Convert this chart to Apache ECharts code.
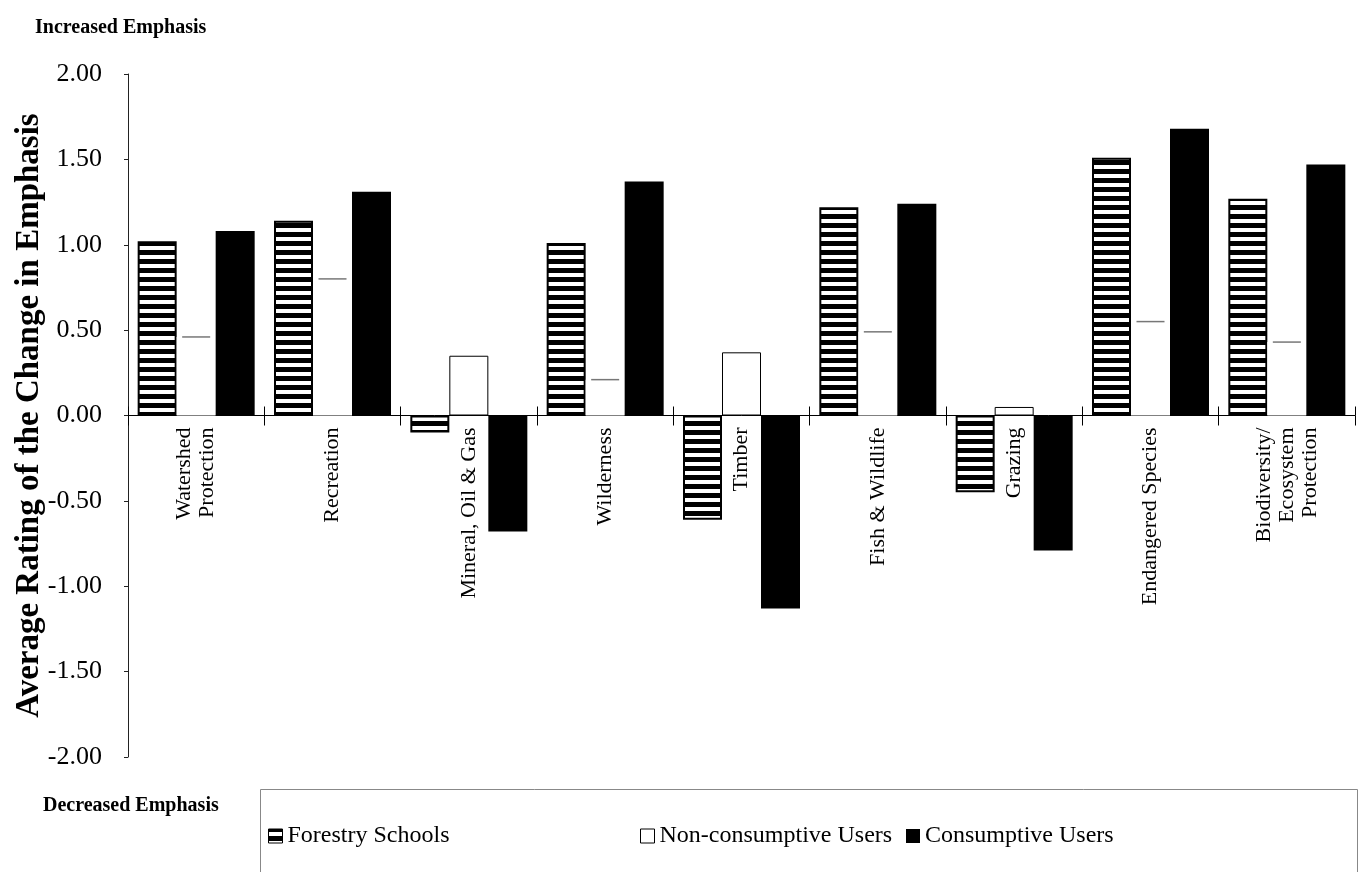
<!DOCTYPE html>
<html>
<head>
<meta charset="utf-8">
<script src="https://cdn.jsdelivr.net/npm/echarts@6/dist/echarts.min.js"></script>
<style>
  html, body { margin: 0; padding: 0; background: #fff; }
  #chart { width: 1365px; height: 872px; }
</style>
</head>
<body>
<div id="chart"></div>
<script>
// Resource categories along the x axis
const categories = [
  'Watershed\nProtection',
  'Recreation',
  'Mineral, Oil & Gas',
  'Wilderness',
  'Timber',
  'Fish & Wildlife',
  'Grazing',
  'Endangered Species',
  'Biodiversity/\nEcosystem\nProtection'
];

// Average rating of the change in emphasis, per group
const forestrySchools     = [1.02, 1.14, -0.10, 1.01, -0.61, 1.22, -0.45, 1.51, 1.27];
const nonConsumptiveUsers = [0.46, 0.80,  0.35, 0.21,  0.37, 0.49,  0.05, 0.55, 0.43];
const consumptiveUsers    = [1.08, 1.31, -0.68, 1.37, -1.13, 1.24, -0.79, 1.68, 1.47];

// Value axis range and step
const yMin = -2;
const yMax = 2;
const yStep = 0.5;

// Non-consumptive bars that are drawn with a full outline
const outlinedNonConsumptive = ['Mineral, Oil & Gas', 'Timber', 'Grazing'];

const FONT = 'Liberation Serif';

// Plot area
const GRID = { left: 128, right: 10, top: 74, bottom: 115 };
const CHART_H = 872;
// distance from the plot's bottom edge up to the zero line
const zeroLift = (CHART_H - GRID.top - GRID.bottom) * (0 - yMin) / (yMax - yMin);

// Horizontal black/white stripe fill for the forestry schools bars
function stripePattern() {
  const c = document.createElement('canvas');
  c.width = 4;
  c.height = 9;
  const ctx = c.getContext('2d');
  ctx.fillStyle = '#000';
  ctx.fillRect(0, 0, 4, 9);
  ctx.fillStyle = '#fff';
  ctx.fillRect(0, 3, 4, 4);
  return c;
}
const stripes = { image: stripePattern(), repeat: 'repeat' };

const isOutlined = i => outlinedNonConsumptive.includes(categories[i]);

const chart = echarts.init(document.getElementById('chart'), null, { renderer: 'canvas' });

const legendText = { fontFamily: FONT, fontSize: 24, color: '#000' };
const legendBase = {
  top: 824,
  orient: 'horizontal',
  itemWidth: 14,
  itemHeight: 14,
  itemGap: 0,
  padding: 0,
  icon: 'rect',
  textStyle: legendText,
  selectedMode: false
};

chart.setOption({
  animation: false,
  backgroundColor: '#fff',
  title: [
    {
      text: 'Increased Emphasis',
      left: 30, top: 13,
      textStyle: { fontFamily: FONT, fontSize: 20, fontWeight: 'bold', color: '#000' }
    },
    {
      text: 'Decreased Emphasis',
      left: 38, top: 791,
      textStyle: { fontFamily: FONT, fontSize: 20, fontWeight: 'bold', color: '#000' }
    }
  ],
  legend: [
    Object.assign({}, legendBase, {
      left: 268,
      data: [{ name: 'Forestry Schools', itemStyle: { borderColor: '#000', borderWidth: 1 } }]
    }),
    Object.assign({}, legendBase, {
      left: 640,
      data: [{ name: 'Non-consumptive Users', itemStyle: { color: '#fff', borderColor: '#000', borderWidth: 1 } }]
    }),
    Object.assign({}, legendBase, {
      left: 906,
      data: [{ name: 'Consumptive Users' }]
    })
  ],
  graphic: [
    {
      type: 'rect',
      left: 258, top: 787,
      shape: { width: 1097, height: 100 },
      style: { fill: 'none', stroke: '#888', lineWidth: 1 },
      silent: true,
      z: -1
    }
  ],
  grid: Object.assign({ outerBoundsMode: 'none', containLabel: false }, GRID),
  xAxis: [
    {
      // category axis drawn along the zero line, labels hanging below it
      type: 'category',
      data: categories,
      position: 'bottom',
      offset: -zeroLift,
      axisLine: { onZero: false, lineStyle: { color: '#000', width: 1 } },
      axisTick: { show: true, interval: 0, length: 10, lineStyle: { color: '#000' } },
      axisLabel: {
        interval: 0,
        rotate: 90,
        margin: 12,
        fontFamily: FONT,
        fontSize: 22,
        lineHeight: 23,
        color: '#000'
      },
      splitLine: { show: false }
    },
    {
      // upward half of the category separator ticks
      type: 'category',
      data: categories,
      position: 'top',
      offset: -(CHART_H - GRID.top - GRID.bottom - zeroLift),
      axisLine: { show: false, onZero: false },
      axisTick: { show: true, interval: 0, length: 9, lineStyle: { color: '#000' } },
      axisLabel: { show: false },
      splitLine: { show: false }
    }
  ],
  yAxis: {
    type: 'value',
    min: yMin,
    max: yMax,
    interval: yStep,
    name: 'Average Rating of the Change in Emphasis',
    nameLocation: 'middle',
    nameGap: 82,
    nameMoveOverlap: false,
    nameTextStyle: { fontFamily: FONT, fontSize: 33, fontWeight: 'bold', color: '#000' },
    axisLine: { show: true, onZero: false, lineStyle: { color: '#222', width: 1 } },
    axisTick: { show: true, length: 4, lineStyle: { color: '#222' } },
    axisLabel: {
      formatter: v => v.toFixed(2),
      fontFamily: FONT,
      fontSize: 26,
      margin: 26,
      color: '#000'
    },
    splitLine: { show: false }
  },
  series: [
    {
      name: 'Forestry Schools',
      type: 'bar',
      barWidth: 39,
      barGap: '0%',
      data: forestrySchools,
      itemStyle: { color: stripes, borderColor: '#000', borderWidth: 2 }
    },
    {
      name: 'Non-consumptive Users',
      type: 'bar',
      barWidth: 39,
      barGap: '0%',
      data: nonConsumptiveUsers.map((v, i) =>
        isOutlined(i) ? { value: v, itemStyle: { borderColor: '#000', borderWidth: 1 } } : v
      ),
      itemStyle: { color: '#fff', borderWidth: 0 }
    },
    {
      name: 'Consumptive Users',
      type: 'bar',
      barWidth: 39,
      barGap: '0%',
      data: consumptiveUsers,
      itemStyle: { color: '#000' }
    },
    {
      // faint top edge of the white non-consumptive bars
      name: 'nonConsumptiveTop',
      type: 'scatter',
      symbol: 'rect',
      symbolSize: [28, 1.5],
      data: nonConsumptiveUsers.map((v, i) => (isOutlined(i) ? '-' : v)),
      itemStyle: { color: '#555' },
      z: 5,
      silent: true
    }
  ]
});
</script>
</body>
</html>
